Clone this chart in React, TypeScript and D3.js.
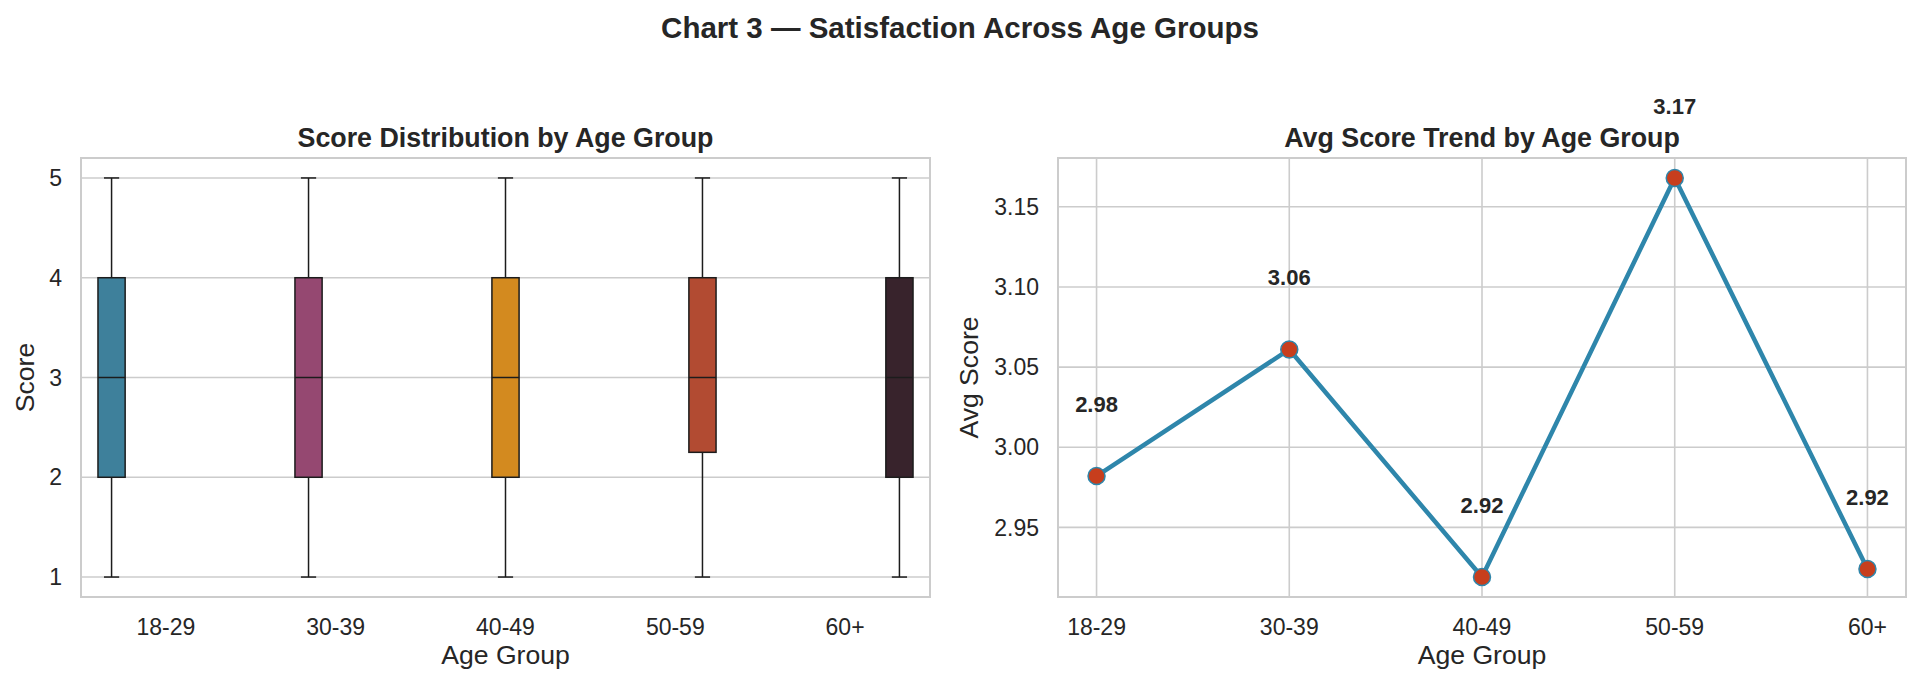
import * as d3 from "d3";

const ageGroups = ["18-29", "30-39", "40-49", "50-59", "60+"];

// box plot stats per age group
const scoreMin = [1, 1, 1, 1, 1];
const scoreQ1 = [2, 2, 2, 2.25, 2];
const scoreMedian = [3, 3, 3, 3, 3];
const scoreQ3 = [4, 4, 4, 4, 4];
const scoreMax = [5, 5, 5, 5, 5];
const scoreTicks = [1, 2, 3, 4, 5];

// average score per age group
const avgScores = [2.982, 3.061, 2.919, 3.168, 2.924];
const avgTicks = [2.95, 3.0, 3.05, 3.1, 3.15];

const palette = ["#2E86AB", "#A23B72", "#F18F01", "#C73E1D", "#3B1F2B"];

const W = 1920;
const H = 686;
const FONT = "'Liberation Sans', Arial, sans-serif";
const TEXT = "#262626";
const GRID = "#cccccc";

const TOP = 158;
const BOTTOM = 597;

// seaborn-style desaturation (saturation * 0.75)
function desat(c: string) {
  const h = d3.hsl(c);
  h.s *= 0.75;
  return h.formatHex();
}

function BoxPanel() {
  const left = 81;
  const right = 930;
  const x = d3.scaleLinear().domain([-0.5, 4.5]).range([left, right]);
  const y = d3.scaleLinear().domain([0.8, 5.2]).range([BOTTOM, TOP]);
  const boxW = x(0.16) - x(0);
  const capW = boxW * 0.56;
  const line = "#1c1c1c";

  return (
    <g>
      <text x={(left + right) / 2} y={147} textAnchor="middle" fontSize={26.8} fontWeight="bold" fill={TEXT}>
        Score Distribution by Age Group
      </text>
      {scoreTicks.map((t) => (
        <g key={t}>
          <line x1={left} x2={right} y1={y(t)} y2={y(t)} stroke={GRID} strokeWidth={1.6} />
          <text x={left - 19} y={y(t) + 8.2} textAnchor="end" fontSize={23} fill={TEXT}>
            {t}
          </text>
        </g>
      ))}
      {ageGroups.map((g, i) => {
        const cx = x(i + (i - 2) * 0.16);
        return (
          <g key={g}>
            <line x1={cx} x2={cx} y1={y(scoreQ3[i])} y2={y(scoreMax[i])} stroke={line} strokeWidth={1.5} />
            <line x1={cx} x2={cx} y1={y(scoreQ1[i])} y2={y(scoreMin[i])} stroke={line} strokeWidth={1.5} />
            <line x1={cx - capW / 2} x2={cx + capW / 2} y1={y(scoreMax[i])} y2={y(scoreMax[i])} stroke={line} strokeWidth={1.5} />
            <line x1={cx - capW / 2} x2={cx + capW / 2} y1={y(scoreMin[i])} y2={y(scoreMin[i])} stroke={line} strokeWidth={1.5} />
            <rect
              x={cx - boxW / 2}
              y={y(scoreQ3[i])}
              width={boxW}
              height={y(scoreQ1[i]) - y(scoreQ3[i])}
              fill={desat(palette[i])}
              stroke={line}
              strokeWidth={1.5}
            />
            <line x1={cx - boxW / 2} x2={cx + boxW / 2} y1={y(scoreMedian[i])} y2={y(scoreMedian[i])} stroke={line} strokeWidth={1.5} />
            <text x={x(i)} y={635} textAnchor="middle" fontSize={23} fill={TEXT}>
              {g}
            </text>
          </g>
        );
      })}
      <rect x={left} y={TOP} width={right - left} height={BOTTOM - TOP} fill="none" stroke={GRID} strokeWidth={2} />
      <text x={(left + right) / 2} y={664} textAnchor="middle" fontSize={26.6} fill={TEXT}>
        Age Group
      </text>
      <text transform={`translate(34,${(TOP + BOTTOM) / 2}) rotate(-90)`} textAnchor="middle" fontSize={26.6} fill={TEXT}>
        Score
      </text>
    </g>
  );
}

function TrendPanel() {
  const left = 1058;
  const right = 1906;
  const x = d3.scaleLinear().domain([-0.2, 4.2]).range([left, right]);
  const [lo, hi] = d3.extent(avgScores) as [number, number];
  const pad = (hi - lo) * 0.05;
  const y = d3.scaleLinear().domain([lo - pad, hi + pad]).range([BOTTOM, TOP]);
  const pts = avgScores.map((v, i) => [x(i), y(v)] as [number, number]);
  const path = d3.line()(pts) || "";
  const lineColor = "#2E86AB";

  return (
    <g>
      <text x={(left + right) / 2} y={147} textAnchor="middle" fontSize={26.8} fontWeight="bold" fill={TEXT}>
        Avg Score Trend by Age Group
      </text>
      {avgTicks.map((t) => (
        <g key={t}>
          <line x1={left} x2={right} y1={y(t)} y2={y(t)} stroke={GRID} strokeWidth={1.6} />
          <text x={left - 19} y={y(t) + 8.2} textAnchor="end" fontSize={23} fill={TEXT}>
            {t.toFixed(2)}
          </text>
        </g>
      ))}
      {ageGroups.map((g, i) => (
        <g key={g}>
          <line x1={x(i)} x2={x(i)} y1={TOP} y2={BOTTOM} stroke={GRID} strokeWidth={1.6} />
          <text x={x(i)} y={635} textAnchor="middle" fontSize={23} fill={TEXT}>
            {g}
          </text>
        </g>
      ))}
      <rect x={left} y={TOP} width={right - left} height={BOTTOM - TOP} fill="none" stroke={GRID} strokeWidth={2} />
      <path d={path} fill="none" stroke={lineColor} strokeWidth={4.5} strokeLinejoin="round" />
      {avgScores.map((v, i) => (
        <g key={i}>
          <circle cx={x(i)} cy={y(v)} r={8.5} fill="#C73E1D" stroke={lineColor} strokeWidth={1.5} />
          <text x={x(i)} y={y(v + 0.04)} textAnchor="middle" fontSize={22} fontWeight="bold" fill={TEXT}>
            {v.toFixed(2)}
          </text>
        </g>
      ))}
      <text x={(left + right) / 2} y={664} textAnchor="middle" fontSize={26.6} fill={TEXT}>
        Age Group
      </text>
      <text transform={`translate(978,${(TOP + BOTTOM) / 2}) rotate(-90)`} textAnchor="middle" fontSize={26.6} fill={TEXT}>
        Avg Score
      </text>
    </g>
  );
}

export default function App() {
  return (
    <div style={{ position: "absolute", left: 0, top: 0, width: W, height: H, background: "#fff" }}>
      <svg width={W} height={H} viewBox={`0 0 ${W} ${H}`} fontFamily={FONT} style={{ display: "block" }}>
        <rect width={W} height={H} fill="#fff" />
        <text x={W / 2} y={38} textAnchor="middle" fontSize={29.5} fontWeight="bold" fill={TEXT}>
          Chart 3 — Satisfaction Across Age Groups
        </text>
        <BoxPanel />
        <TrendPanel />
      </svg>
    </div>
  );
}
